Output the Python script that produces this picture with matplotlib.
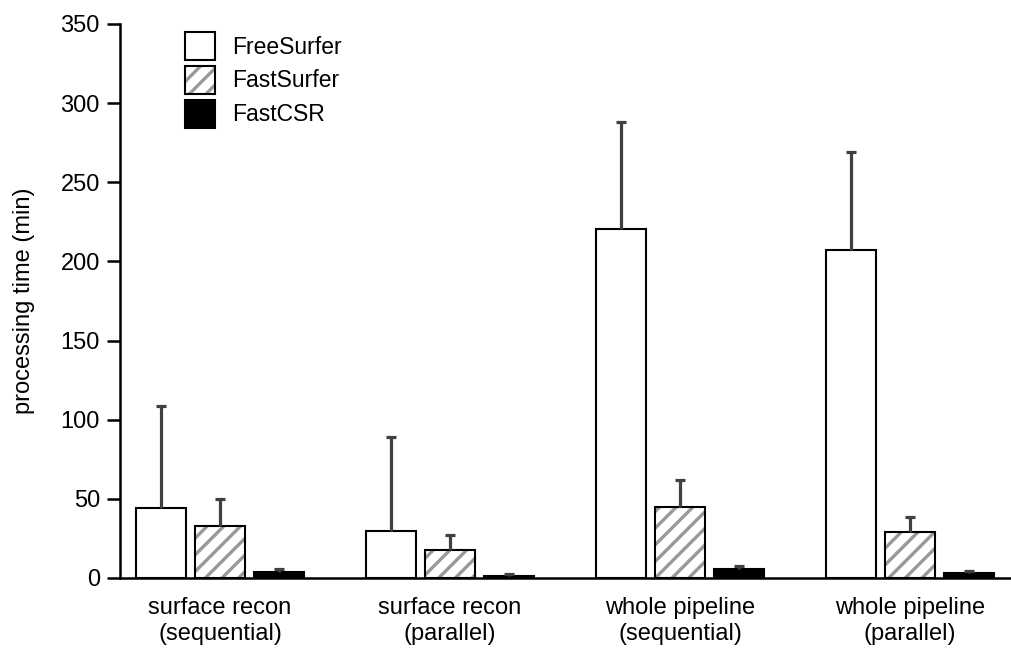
import matplotlib
matplotlib.use("Agg")
import matplotlib.pyplot as plt
import numpy as np
from matplotlib.patches import Patch

plt.rcParams['font.family'] = ['Liberation Sans', 'DejaVu Sans']
plt.rcParams['hatch.linewidth'] = 2.4

categories = ["surface recon\n(sequential)", "surface recon\n(parallel)",
              "whole pipeline\n(sequential)", "whole pipeline\n(parallel)"]
series = ["FreeSurfer", "FastSurfer", "FastCSR"]
freesurfer_mean = [44.5, 30, 220.5, 207.5]
freesurfer_top = [108.5, 89, 288, 269]
fastsurfer_mean = [33, 18, 45, 29]
fastsurfer_top = [50, 27, 62, 38.5]
fastcsr_mean = [4, 1.5, 5.5, 3.2]
fastcsr_top = [5.5, 2.5, 7.5, 4.5]
yticks = [0, 50, 100, 150, 200, 250, 300, 350]

fig = plt.figure(figsize=(10.12, 6.49), dpi=100)
ax = fig.add_axes([120/1012, 1-578/649, 890/1012, 554/649])

x = np.arange(len(categories))
w = 0.217
off = 0.2565
ecol = '#404040'
err_kw = dict(fmt='none', ecolor=ecol, elinewidth=2.3, capsize=3.6, capthick=2.3, zorder=4)

def upper(mean, top):
    return [np.zeros(len(mean)), np.array(top) - np.array(mean)]

def errbar(xs, mean, top):
    cont = ax.errorbar(xs, mean, yerr=upper(mean, top), **err_kw)
    caps = cont[1]
    if len(caps) > 0:
        caps[0].set_visible(False)

# FreeSurfer
ax.bar(x - off, freesurfer_mean, w, facecolor='white', edgecolor='black', linewidth=1.5, zorder=3)
errbar(x - off, freesurfer_mean, freesurfer_top)
# FastSurfer (hatched)
ax.bar(x, fastsurfer_mean, w, facecolor='white', edgecolor='#999999', hatch='//', linewidth=0, zorder=2)
ax.bar(x, fastsurfer_mean, w, facecolor='none', edgecolor='black', linewidth=1.5, zorder=3)
errbar(x, fastsurfer_mean, fastsurfer_top)
# FastCSR
ax.bar(x + off, fastcsr_mean, w, facecolor='black', edgecolor='black', linewidth=1.5, zorder=3)
errbar(x + off, fastcsr_mean, fastcsr_top)

ax.set_xlim(-0.435, 3.435)
ax.set_ylim(0, 350)
ax.set_yticks(yticks)
ax.set_xticks(x)
ax.set_xticklabels(categories, fontsize=17, linespacing=1.2)
ax.tick_params(axis='x', length=0, pad=14)
ax.tick_params(axis='y', direction='out', length=9.5, width=1.8, labelsize=17, pad=5)
for s in ['top', 'right']:
    ax.spines[s].set_visible(False)
for s in ['left', 'bottom']:
    ax.spines[s].set_linewidth(1.8)
ax.set_ylabel("processing time (min)", fontsize=17, labelpad=18)

h1 = Patch(facecolor='white', edgecolor='black', linewidth=1.5)
h2a = Patch(facecolor='white', edgecolor='#999999', hatch='//', linewidth=0)
h2b = Patch(facecolor='none', edgecolor='black', linewidth=1.5)
h3 = Patch(facecolor='black', edgecolor='black', linewidth=1.5)
ax.legend([h1, (h2a, h2b), h3], series, loc='upper left',
          bbox_to_anchor=(0.073, 0.9856), frameon=False, fontsize=16.5,
          handlelength=1.31, handleheight=1.5, labelspacing=0.26,
          handletextpad=0.74, borderpad=0, borderaxespad=0)

fig.savefig("out.png", dpi=100)
